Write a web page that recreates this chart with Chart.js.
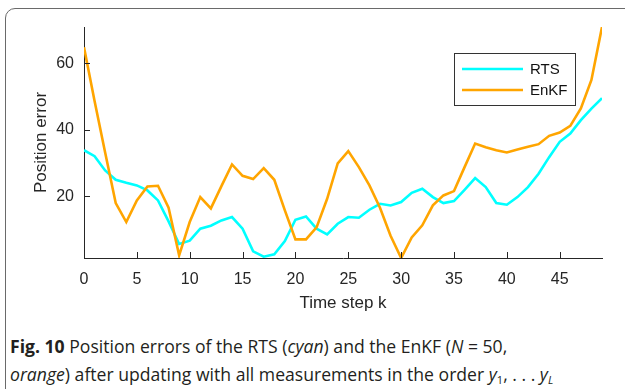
<!DOCTYPE html>
<html>
<head>
<meta charset="utf-8">
<script src="https://cdn.jsdelivr.net/npm/chart.js@4.4.1/dist/chart.umd.min.js"></script>
<style>
  html, body { margin: 0; padding: 0; background: #fff; }
  body { width: 625px; height: 389px; position: relative; overflow: hidden; }
  .frame {
    position: absolute; left: 5px; top: 8px; width: 660px; height: 420px;
    border: 1.3px solid #6a6a6a; border-radius: 10px; box-sizing: border-box;
  }
  #plot { position: absolute; left: 0; top: 0; }
  .caption {
    position: absolute; left: 10px; top: 332px; width: 610px;
    font-family: "Open Sans", sans-serif; font-size: 17.6px; line-height: 28px;
    color: #231f20; white-space: nowrap;
  }
  .caption b { font-weight: 700; }
  .caption sub { font-size: 11px; line-height: 0; vertical-align: -3px; }
</style>
</head>
<body>
<div class="frame"></div>
<canvas id="plot" width="625" height="318"></canvas>
<div class="caption"><b>Fig. 10</b> Position errors of the RTS (<i>cyan</i>) and the EnKF (<i>N</i> = 50,<br><i>orange</i>) after updating with all measurements in the order <i>y</i><sub>1</sub>, . . . <i>y</i><sub><i>L</i></sub></div>
<script>
// time steps k = 0..49
const steps = [0, 1, 2, 3, 4, 5, 6, 7, 8, 9,
  10, 11, 12, 13, 14, 15, 16, 17, 18, 19,
  20, 21, 22, 23, 24, 25, 26, 27, 28, 29,
  30, 31, 32, 33, 34, 35, 36, 37, 38, 39,
  40, 41, 42, 43, 44, 45, 46, 47, 48, 49];

// position error per step
const rts = [33.9, 32.1, 27.8, 25.0, 24.1, 23.3, 21.8, 18.8, 12.5, 5.7,
  6.7, 10.3, 11.2, 12.8, 13.8, 10.3, 3.5, 1.9, 2.6, 6.6,
  13.0, 14.0, 10.3, 8.6, 11.8, 13.8, 13.6, 16.0, 17.8, 17.3,
  18.3, 21.1, 22.3, 19.8, 18.0, 18.6, 22.0, 25.5, 22.8, 18.0,
  17.5, 19.8, 22.8, 26.8, 31.8, 36.4, 38.9, 42.9, 46.4, 49.5];
const enkf = [64.8, 48.7, 33.2, 18.0, 12.3, 18.8, 23.0, 23.2, 16.6, 2.3,
  12.3, 19.8, 16.4, 23.1, 29.6, 26.2, 25.2, 28.5, 25.0, 15.8,
  7.1, 7.1, 10.7, 19.3, 29.9, 33.6, 28.8, 23.3, 16.6, 8.2,
  1.5, 7.7, 11.3, 17.3, 20.3, 21.6, 28.8, 35.9, 34.8, 33.9,
  33.2, 34.1, 34.9, 35.7, 38.2, 39.2, 41.2, 46.4, 55.0, 70.9];

const xTicks = [0, 5, 10, 15, 20, 25, 30, 35, 40, 45];
const yTicks = [20, 40, 60];

const axisColor = '#262626';
const tickFont = { family: 'Liberation Sans, Arial, sans-serif', size: 16 };
const titleFont = { family: 'Liberation Sans, Arial, sans-serif', size: 17 };

// axis limits hug the data
const yMin = Math.min(...rts, ...enkf);
const yMax = Math.max(...rts, ...enkf);

function pairs(ys) {
  return steps.map((k, i) => ({ x: k, y: ys[i] }));
}

// small tick marks pointing into the plot
const innerTicks = {
  id: 'innerTicks',
  afterDraw(chart) {
    const { ctx, chartArea, scales } = chart;
    ctx.save();
    ctx.strokeStyle = axisColor;
    ctx.lineWidth = 1;
    ctx.beginPath();
    xTicks.forEach(v => {
      const px = Math.round(scales.x.getPixelForValue(v)) + 0.5;
      ctx.moveTo(px, chartArea.bottom);
      ctx.lineTo(px, chartArea.bottom - 6);
    });
    yTicks.forEach(v => {
      const py = Math.round(scales.y.getPixelForValue(v)) + 0.5;
      ctx.moveTo(chartArea.left, py);
      ctx.lineTo(chartArea.left + 6, py);
    });
    ctx.stroke();
    ctx.restore();
  }
};

// boxed legend in the upper right of the axes
const boxLegend = {
  id: 'boxLegend',
  afterDraw(chart) {
    const ctx = chart.ctx;
    const x = 454.5, y = 53.5, w = 121, h = 52;
    ctx.save();
    ctx.fillStyle = '#fff';
    ctx.fillRect(x, y, w, h);
    ctx.strokeStyle = '#333';
    ctx.lineWidth = 1;
    ctx.strokeRect(x, y, w, h);
    ctx.font = '15px Liberation Sans, Arial, sans-serif';
    ctx.textBaseline = 'middle';
    ctx.fillStyle = '#111';
    chart.data.datasets.forEach((ds, i) => {
      const ly = 69 + i * 21;
      ctx.strokeStyle = ds.borderColor;
      ctx.lineWidth = ds.borderWidth;
      ctx.beginPath();
      ctx.moveTo(462, ly);
      ctx.lineTo(523, ly);
      ctx.stroke();
      ctx.fillText(ds.label, 530, ly + 1);
    });
    ctx.restore();
  }
};

new Chart(document.getElementById('plot'), {
  type: 'line',
  data: {
    datasets: [
      { label: 'RTS', data: pairs(rts), borderColor: '#00ffff', borderWidth: 2.6, order: 1 },
      { label: 'EnKF', data: pairs(enkf), borderColor: '#ffa500', borderWidth: 2.6, order: 0 }
    ]
  },
  options: {
    responsive: false,
    animation: false,
    devicePixelRatio: 1,
    layout: { padding: { left: 0, top: 27, right: 23, bottom: 0 } },
    elements: { point: { radius: 0 }, line: { tension: 0 } },
    plugins: { legend: { display: false }, tooltip: { enabled: false } },
    scales: {
      x: {
        type: 'linear',
        min: 0,
        max: 49,
        afterFit(scale) { scale.height = 60; },
        grid: { display: false, drawTicks: false },
        border: { display: true, color: axisColor, width: 1 },
        ticks: { stepSize: 5, includeBounds: false, color: axisColor, font: tickFont, padding: 12, maxRotation: 0 },
        title: { display: true, text: 'Time step k', color: axisColor, font: titleFont, padding: { top: 0, bottom: 4 } }
      },
      y: {
        type: 'linear',
        min: yMin,
        max: yMax,
        afterFit(scale) { scale.width = 84; },
        grid: { display: false, drawTicks: false },
        border: { display: true, color: axisColor, width: 1 },
        ticks: { stepSize: 20, includeBounds: false, color: axisColor, font: tickFont, padding: 10 },
        title: { display: true, text: 'Position error', color: axisColor, font: titleFont, padding: { top: 31, bottom: 0 } }
      }
    }
  },
  plugins: [innerTicks, boxLegend]
});
</script>
</body>
</html>
